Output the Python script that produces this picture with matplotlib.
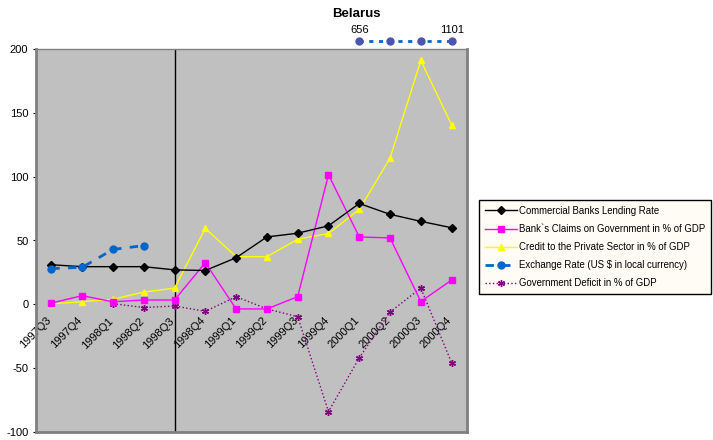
import matplotlib.pyplot as plt
import matplotlib.transforms as mtransforms
import numpy as np

plt.rcParams['font.family'] = ['Liberation Sans', 'DejaVu Sans']
plt.rcParams['axes.unicode_minus'] = False

quarters = ['1997Q3', '1997Q4', '1998Q1', '1998Q2', '1998Q3', '1998Q4', '1999Q1',
            '1999Q2', '1999Q3', '1999Q4', '2000Q1', '2000Q2', '2000Q3', '2000Q4']

lending_rate = [31, 29.5, 29.5, 29.5, 27, 26.5, 36.5, 52.8, 55.7, 61.5, 79, 70.5, 65, 60]
claims_gov = [1, 6.8, 2, 3.4, 3.4, 32.6, -3.6, -3.6, 6, 101.5, 52.8, 52, 2.2, 19]
credit_private = [0.5, 2, 4, 9.6, 12.7, 59.6, 37.3, 37.3, 51, 55.5, 74.3, 114.5, 191, 140.6]
exchange_rate = [28, 29, 43, 46, np.nan, np.nan, np.nan, np.nan, np.nan, np.nan,
                 656, 840, 1000, 1101]
gov_deficit = [np.nan, np.nan, 0.5, -2.5, -1.3, -5.5, 6, -3.6, -9.7, -84, -42, -6, 12.7, -45.8]

x = np.arange(len(quarters))
ymin, ymax = -100, 200

fig = plt.figure(figsize=(7.13, 4.40), dpi=100)
ax = fig.add_axes([36 / 713, 8 / 440, 431 / 713, 383 / 440])
ax.set_facecolor('#C0C0C0')

ax.axvline(4, color='black', lw=1, zorder=1)

ax.plot(x, lending_rate, color='black', lw=1, marker='D', ms=4,
        label='Commercial Banks Lending Rate', zorder=5)
ax.plot(x, claims_gov, color='#FF00FF', lw=1, marker='s', ms=5,
        label='Bank`s Claims on Government in % of GDP', zorder=4)
ax.plot(x, credit_private, color='#FFFF00', lw=1, marker='^', ms=5,
        label='Credit to the Private Sector in % of GDP', zorder=3)

# exchange rate: on-scale part in data coords, off-scale part pinned above the plot
ex = np.array(exchange_rate, dtype=float)
on = np.where(ex <= ymax, ex, np.nan)
ax.plot(x, on, color='#0066CC', lw=2, ls=(0, (3, 3)), marker='o', ms=5,
        label='Exchange Rate (US $ in local currency)', zorder=6)
off_idx = np.where(ex > ymax)[0]
trans = mtransforms.blended_transform_factory(ax.transData, ax.transAxes)
ax.plot(x[off_idx], np.full(len(off_idx), 1.021), transform=trans, clip_on=False,
        color='#0066CC', lw=2, ls=(0, (1.5, 2)), marker='o', ms=5,
        mfc='#4B55B0', mec='#4B55B0', zorder=6)
for i in [off_idx[0], off_idx[-1]]:
    ax.annotate('%d' % ex[i], (x[i], 1.021), xycoords=trans, xytext=(0, 4),
                textcoords='offset points', ha='center', va='bottom', fontsize=8)

ax.plot(x, gov_deficit, color='#800080', lw=1, ls=':', marker=(6, 2, 0), ms=5,
        label='Government Deficit in % of GDP', zorder=2)

ax.set_xlim(-0.5, len(quarters) - 0.5)
ax.set_ylim(ymin, ymax)
ax.set_yticks(np.arange(ymin, ymax + 1, 50))
ax.tick_params(axis='y', labelsize=8, length=2, direction='out', color='black')

ax.spines['bottom'].set_position(('data', 0))
ax.spines['bottom'].set_visible(False)
ax.set_xticks(x)
ax.set_xticklabels(quarters, rotation=45, ha='right', rotation_mode='anchor', fontsize=8)
ax.tick_params(axis='x', length=0, pad=8)
shift = mtransforms.ScaledTranslation(-5 / 100, 0, fig.dpi_scale_trans)
for lab in ax.get_xticklabels():
    lab.set_transform(lab.get_transform() + shift)
for s in ['left', 'right', 'top']:
    ax.spines[s].set_color('#808080')
ax.spines['left'].set_linewidth(2)
ax.spines['right'].set_linewidth(2)
ax.spines['top'].set_linewidth(1)
# bottom border of plot area
ax.axhline(ymin, color='#808080', lw=2, clip_on=False)

fig.text(0.5, 1 - 14 / 440, 'Belarus', ha='center', va='center', fontsize=9.5, weight='bold')

leg = ax.legend(loc='upper left', bbox_to_anchor=(479 / 713, 1 - 200 / 440),
                bbox_transform=fig.transFigure, fontsize=6.9, handlelength=3.4,
                frameon=True, fancybox=False, borderaxespad=0, labelspacing=0.85,
                borderpad=0.6, handletextpad=0.2)
leg.get_frame().set_facecolor('#FFFBF5')
leg.get_frame().set_edgecolor('black')
leg.get_frame().set_alpha(1)

fig.savefig('out.png', dpi=100)
